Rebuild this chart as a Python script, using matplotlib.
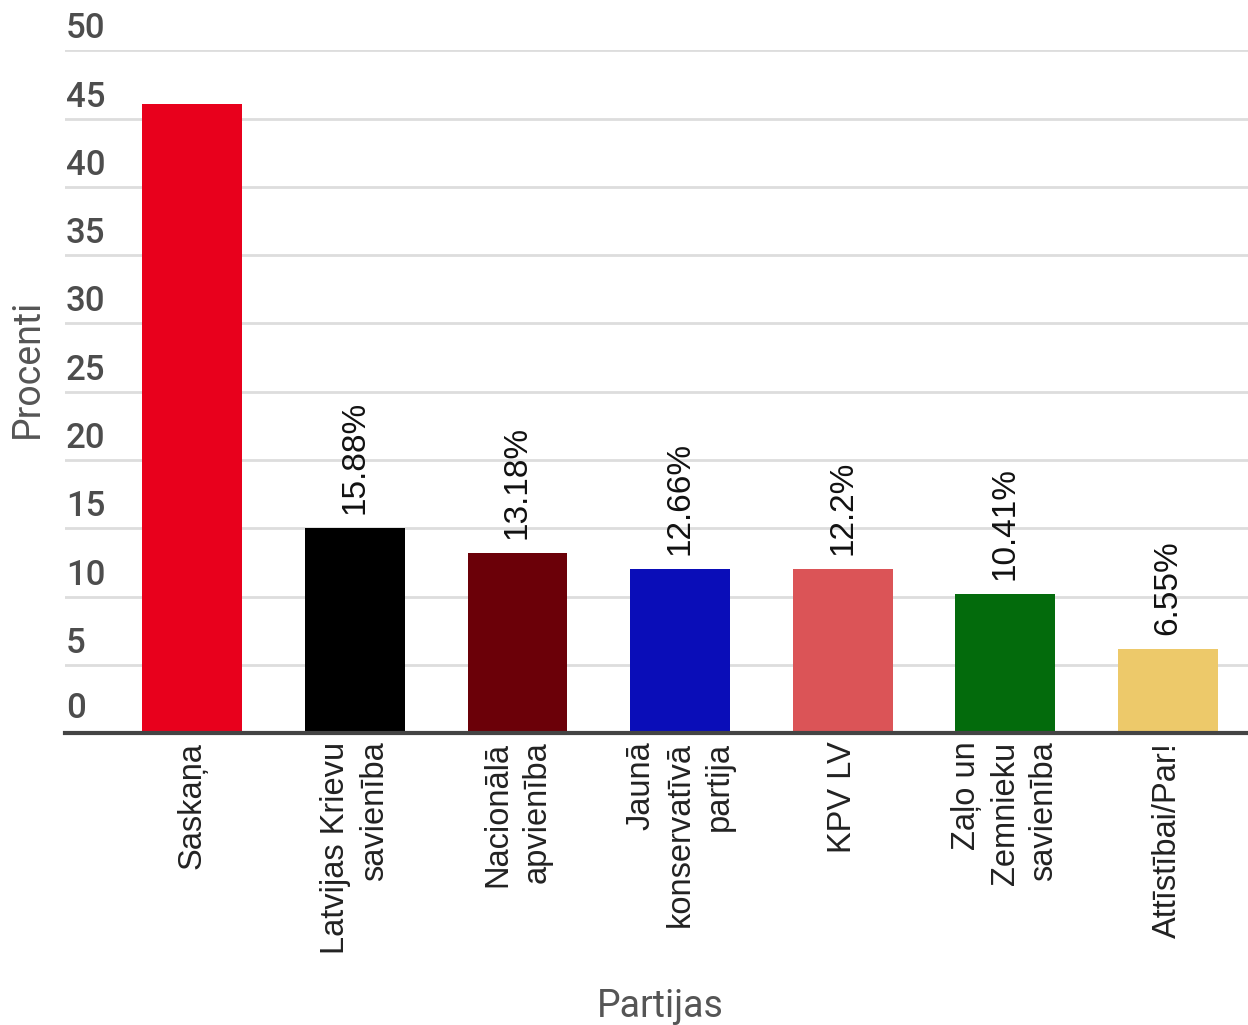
import matplotlib
matplotlib.use("Agg")
import matplotlib.pyplot as plt
import numpy as np

# Data
parties = ["Saskaņa", "Latvijas Krievu\nsavienība", "Nacionālā\napvienība",
           "Jaunā\nkonservatīvā\npartija", "KPV LV", "Zaļo un\nZemnieku\nsavienība",
           "Attīstībai/Par!"]
heights = [46.1, 15.05, 13.2, 12.0, 12.0, 10.2, 6.2]
value_labels = ["", "15.88%", "13.18%", "12.66%", "12.2%", "10.41%", "6.55%"]
colors = ["#E8001C", "#000000", "#6B0008", "#0A0DB8", "#DB5457", "#036B0C", "#EDC96A"]
yticks = [0, 5, 10, 15, 20, 25, 30, 35, 40, 45, 50]

fig = plt.figure(figsize=(12.48, 10.25), dpi=100)
ax = fig.add_axes([0.052, 0.2845, 0.948, 0.6665])

x = np.arange(len(parties))
ax.bar(x, heights, width=0.615, color=colors, zorder=3)

ax.set_xlim(-0.785, 6.495)
ax.set_ylim(0, 50)

# gridlines
for t in yticks[1:]:
    ax.axhline(t, color="#dddddd", lw=2, zorder=1)
ax.axhline(0, color="#444444", lw=3, zorder=4, clip_on=False)

# y tick labels sitting above the gridlines
ax.set_yticks([])
for t in yticks:
    ax.annotate(str(t), xy=(0, t), xycoords=("axes fraction", "data"),
                xytext=(1, 5 if t else 8), textcoords="offset pixels",
                ha="left", va="bottom", fontsize=25, color="#4d4d4d",
                family="Roboto", fontweight="medium")

# value labels
for xi, h, lab in zip(x, heights, value_labels):
    if lab:
        ax.annotate(lab, xy=(xi, h), xytext=(0, 14), textcoords="offset pixels",
                    rotation=90, ha="center", va="bottom", fontsize=24,
                    color="#111111", family="Liberation Sans")

ax.set_xticks(x)
ax.set_xticklabels(parties, rotation=90, fontsize=23.5, color="#222222",
                   family="Liberation Sans", multialignment="right",
                   linespacing=1.33)
ax.tick_params(axis="x", length=0, pad=6)

for s in ax.spines.values():
    s.set_visible(False)

fig.text(0.022, 0.641, "Procenti", rotation=90, ha="center", va="center",
         fontsize=27, color="#555555", family="Roboto")
fig.text(0.529, 0.018, "Partijas", ha="center", va="center",
         fontsize=27, color="#555555", family="Roboto")

fig.savefig("out.png", dpi=100)
